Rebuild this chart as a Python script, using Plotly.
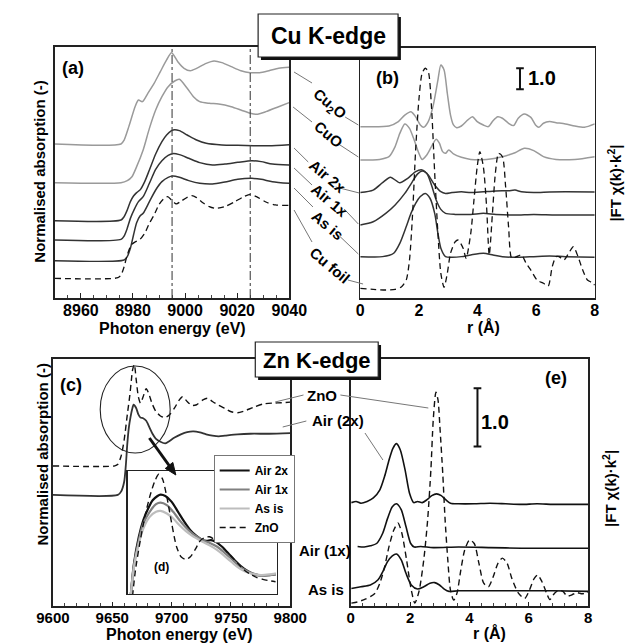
import plotly.graph_objects as go

W = H = 643
FONT = "Liberation Sans, Arial, sans-serif"

# ---------------- (a) Cu K-edge XANES (normalised absorption, offset) ----------------
a_E_cu2o = [8950.0, 8975.4, 8976.6, 8978.4, 8980.8, 8982.1, 8983.6, 8985.7, 8988.1, 8990.5, 8992.9, 8994.8, 8997.2,
            8999.6, 9002.0, 9004.4, 9008.1, 9011.1, 9014.1, 9017.7, 9021.4, 9025.0, 9028.6, 9032.2, 9035.9, 9039.9]
a_mu_cu2o = [2.139, 2.139, 2.194, 2.380, 2.657, 2.750, 2.727, 2.843, 2.981, 3.144, 3.306, 3.407, 3.282,
             3.190, 3.157, 3.190, 3.259, 3.292, 3.269, 3.213, 3.157, 3.130, 3.130, 3.157, 3.190, 3.204]
a_E_cuo = [8950.0, 8975.4, 8977.8, 8979.6, 8981.4, 8983.9, 8986.3, 8988.7, 8991.1, 8993.5, 8996.0, 8997.8,
           9000.8, 9003.2, 9005.6, 9009.3, 9012.9, 9017.7, 9021.4, 9025.0, 9027.4, 9031.0, 9035.9, 9039.9]
a_mu_cuo = [1.602, 1.602, 1.630, 1.685, 1.824, 2.056, 2.356, 2.611, 2.796, 2.935, 3.014, 3.037,
            2.912, 2.796, 2.727, 2.704, 2.694, 2.657, 2.611, 2.565, 2.551, 2.588, 2.657, 2.713]
a_E_air2 = [8950.0, 8975.4, 8976.6, 8977.8, 8979.0, 8980.2, 8981.4, 8982.9, 8984.5, 8986.3, 8988.7, 8991.1,
            8992.9, 8994.8, 8996.0, 8997.8, 9000.8, 9004.4, 9008.1, 9014.1, 9020.2, 9026.2, 9032.2, 9039.9]
a_mu_air2 = [1.074, 1.083, 1.130, 1.222, 1.338, 1.417, 1.463, 1.509, 1.616, 1.778, 2.000, 2.171,
             2.264, 2.324, 2.338, 2.324, 2.264, 2.194, 2.148, 2.125, 2.120, 2.116, 2.116, 2.130]
a_E_air1 = [8950.0, 8975.4, 8976.6, 8977.8, 8979.0, 8980.5, 8982.1, 8983.9, 8986.3, 8988.7, 8991.1, 8993.5,
            8995.3, 8997.8, 9001.4, 9005.6, 9010.5, 9015.3, 9020.2, 9025.6, 9029.2, 9033.5, 9039.9]
a_mu_air1 = [0.806, 0.815, 0.861, 0.968, 1.106, 1.231, 1.338, 1.407, 1.593, 1.787, 1.907, 1.981,
             2.005, 1.991, 1.940, 1.880, 1.847, 1.861, 1.884, 1.907, 1.894, 1.861, 1.847]
a_E_asis = [8950.0, 8976.6, 8977.8, 8979.0, 8980.2, 8981.4, 8982.7, 8983.9, 8986.3, 8988.7, 8991.1, 8993.5,
            8995.3, 8997.8, 9001.4, 9005.6, 9010.5, 9015.3, 9020.2, 9025.6, 9029.2, 9033.5, 9039.9]
a_mu_asis = [0.519, 0.528, 0.574, 0.690, 0.875, 1.046, 1.139, 1.176, 1.338, 1.500, 1.616, 1.676,
             1.694, 1.676, 1.630, 1.593, 1.583, 1.611, 1.648, 1.662, 1.648, 1.616, 1.593]
a_E_foil = [8950.0, 8974.2, 8975.4, 8976.6, 8977.8, 8979.3, 8980.8, 8982.7, 8984.5, 8986.3, 8988.1, 8989.9,
            8991.7, 8993.3, 8994.8, 8996.6, 8998.4, 9000.8, 9002.6, 9004.4, 9006.8, 9009.3, 9011.7, 9015.3,
            9018.9, 9022.0, 9025.0, 9027.4, 9031.0, 9034.7, 9039.9]
a_mu_foil = [0.273, 0.282, 0.319, 0.435, 0.597, 0.736, 0.778, 0.815, 0.898, 1.037, 1.153, 1.292,
             1.375, 1.407, 1.361, 1.306, 1.343, 1.398, 1.421, 1.394, 1.324, 1.269, 1.245, 1.269,
             1.333, 1.398, 1.440, 1.407, 1.333, 1.292, 1.287]
a_ref_lines = [8995, 9025]

# ---------------- (b) Cu K-edge |FT chi(k) k^2| (offset) ----------------
b_r_cu2o = [0.0, 0.98, 1.30, 1.52, 1.73, 1.89, 2.05, 2.16, 2.32, 2.48, 2.65, 2.75, 2.86, 2.97, 3.08, 3.18, 3.29,
            3.45, 3.67, 3.83, 3.99, 4.20, 4.37, 4.53, 4.69, 4.85, 5.06, 5.23, 5.39, 5.60, 5.82, 5.98, 6.09, 6.25,
            6.46, 6.68, 7.00, 7.32, 7.65, 8.00]
b_ft_cu2o = [8.16, 8.19, 8.40, 8.71, 8.87, 8.63, 8.24, 8.13, 8.40, 9.11, 10.38, 11.10, 10.86, 9.75, 8.71, 8.24,
             8.11, 8.19, 8.48, 8.63, 8.40, 8.24, 8.16, 8.44, 8.63, 8.56, 8.32, 8.21, 8.56, 8.76, 8.60, 8.24, 8.13,
             8.32, 8.40, 8.35, 8.29, 8.19, 8.13, 8.29]
b_r_cuo = [0.0, 0.66, 0.98, 1.19, 1.35, 1.52, 1.68, 1.84, 2.00, 2.11, 2.27, 2.43, 2.59, 2.70, 2.81, 2.91, 3.02,
           3.18, 3.45, 3.77, 4.31, 4.85, 5.28, 5.60, 5.92, 6.25, 6.68, 7.32, 8.00]
b_ft_cuo = [6.57, 6.60, 6.73, 7.21, 7.84, 8.29, 8.08, 7.52, 6.89, 6.60, 6.81, 7.21, 7.56, 7.37, 6.97, 6.89, 7.05,
            6.86, 6.70, 6.60, 6.60, 6.73, 6.92, 7.13, 7.02, 6.73, 6.60, 6.60, 6.73]
b_r_air2 = [0.0, 0.44, 0.76, 1.03, 1.35, 1.62, 1.89, 2.11, 2.32, 2.54, 2.75, 2.91, 3.13, 3.45, 3.77, 4.20, 4.63,
            5.06, 5.28, 5.50, 5.92, 6.46, 7.00, 8.00]
b_ft_air2 = [5.02, 5.14, 5.49, 5.75, 5.49, 5.70, 6.02, 6.10, 5.86, 5.38, 5.06, 4.98, 5.02, 5.06, 5.02, 5.06, 5.10,
             5.11, 5.14, 5.06, 5.02, 5.05, 5.06, 5.05]
b_r_air1 = [0.0, 0.44, 0.87, 1.19, 1.52, 1.78, 1.95, 2.11, 2.27, 2.43, 2.59, 2.75, 2.91, 3.24, 3.77, 4.20, 4.63,
            5.28, 5.92, 6.68, 8.00]
b_ft_air1 = [3.48, 3.63, 4.03, 4.43, 4.98, 5.54, 5.90, 6.05, 5.94, 5.38, 4.67, 4.22, 4.03, 3.98, 3.98, 4.03, 3.98,
             3.95, 3.98, 3.95, 3.95]
b_r_asis = [0.0, 0.76, 1.14, 1.35, 1.57, 1.73, 1.89, 2.05, 2.22, 2.38, 2.54, 2.65, 2.75, 2.91, 3.13, 3.45, 3.77,
            4.20, 4.53, 4.85, 5.39, 5.92, 6.46, 7.00, 8.00]
b_ft_asis = [1.97, 1.97, 2.13, 2.60, 3.40, 4.03, 4.51, 4.83, 4.98, 4.75, 4.03, 3.08, 2.37, 1.97, 1.94, 1.97, 2.05,
             2.13, 2.05, 1.97, 1.94, 1.97, 2.00, 1.97, 1.94]
b_r_foil = [0.0, 0.44, 0.87, 1.19, 1.41, 1.57, 1.68, 1.78, 1.89, 2.00, 2.11, 2.22, 2.32, 2.43, 2.54, 2.65, 2.75,
            2.86, 2.97, 3.08, 3.24, 3.34, 3.51, 3.61, 3.77, 3.88, 3.99, 4.08, 4.20, 4.31, 4.40, 4.51, 4.61, 4.72,
            4.85, 4.96, 5.06, 5.17, 5.33, 5.50, 5.66, 5.82, 6.03, 6.25, 6.41, 6.55, 6.68, 6.78, 6.95, 7.11, 7.27,
            7.43, 7.59, 7.75, 7.91, 8.00]
b_ft_foil = [0.46, 0.41, 0.38, 0.41, 0.54, 0.86, 1.81, 3.87, 7.05, 9.43, 10.70, 10.94, 10.78, 9.11, 5.94, 3.08,
             1.17, 0.51, 1.17, 2.13, 2.68, 2.76, 2.37, 1.89, 3.08, 4.67, 6.25, 6.97, 6.25, 4.35, 2.05, 4.03, 5.94,
             6.89, 6.73, 5.30, 3.40, 1.89, 1.97, 2.05, 1.65, 1.33, 0.86, 0.70, 0.57, 1.49, 1.97, 1.97, 1.81, 2.13,
             2.44, 1.97, 1.33, 0.86, 0.73, 0.62]
b_scale = 1.0

# ---------------- (c) Zn K-edge XANES ----------------
c_E_air2 = [9600.0, 9654.7, 9657.4, 9660.0, 9661.4, 9662.7, 9664.0, 9665.3, 9666.7, 9668.0, 9670.1, 9672.0,
            9673.8, 9676.0, 9678.6, 9681.3, 9683.9, 9686.6, 9690.6, 9694.6, 9697.2, 9702.5, 9707.8, 9713.1,
            9718.5, 9723.8, 9729.1, 9734.4, 9739.7, 9745.0, 9755.6, 9766.3, 9782.2, 9800.0]
c_mu_air2 = [1.736, 1.736, 1.787, 1.938, 2.189, 2.541, 2.793, 2.944, 3.070, 3.145, 3.095, 2.994,
             2.944, 2.934, 2.894, 2.793, 2.692, 2.617, 2.567, 2.541, 2.567, 2.632, 2.682, 2.717,
             2.728, 2.712, 2.682, 2.662, 2.652, 2.662, 2.682, 2.692, 2.692, 2.702]
c_E_zno = [9600.0, 9652.1, 9654.7, 9657.4, 9660.0, 9662.7, 9664.8, 9666.2, 9667.2, 9668.6, 9670.1, 9672.0,
           9673.8, 9676.0, 9678.6, 9680.7, 9683.4, 9686.6, 9690.6, 9694.6, 9698.5, 9702.5, 9706.5, 9709.2,
           9713.1, 9717.1, 9721.1, 9726.4, 9730.4, 9734.4, 9739.7, 9745.0, 9750.3, 9755.6, 9760.9, 9768.9,
           9776.9, 9784.8, 9792.8, 9800.0]
c_mu_zno = [2.189, 2.189, 2.214, 2.340, 2.592, 2.994, 3.296, 3.548, 3.699, 3.775, 3.548, 3.271,
            3.171, 3.271, 3.397, 3.322, 3.171, 3.045, 2.969, 2.944, 2.994, 3.095, 3.221, 3.271,
            3.196, 3.135, 3.145, 3.221, 3.246, 3.196, 3.135, 3.085, 3.035, 3.020, 3.045, 3.105,
            3.156, 3.171, 3.176, 3.186]

# ---------------- (d) inset: white-line region ----------------
d_E_air2 = [9660.8, 9661.7, 9663.0, 9664.2, 9665.5, 9666.7, 9668.0, 9668.8, 9670.1, 9671.8, 9673.5, 9675.2,
            9676.8, 9678.5, 9679.8, 9681.1, 9682.3, 9683.6, 9685.3, 9687.0, 9688.6, 9690.3, 9692.0, 9693.7,
            9695.4, 9697.9, 9699.7]
d_mu_air2 = [0.330, 0.599, 0.815, 0.950, 1.045, 1.112, 1.147, 1.158, 1.147, 1.099, 1.018, 0.936,
             0.869, 0.820, 0.793, 0.782, 0.788, 0.774, 0.734, 0.680, 0.626, 0.577, 0.539, 0.512,
             0.501, 0.504, 0.512]
d_E_air1 = [9660.8, 9661.7, 9663.0, 9664.2, 9665.9, 9667.6, 9668.8, 9670.5, 9672.2, 9673.9, 9675.6, 9677.3,
            9679.0, 9680.6, 9682.3, 9684.0, 9685.7, 9687.4, 9689.1, 9690.7, 9692.4, 9694.1, 9695.8, 9697.9,
            9699.7]
d_mu_air1 = [0.330, 0.585, 0.788, 0.923, 1.018, 1.080, 1.093, 1.072, 1.018, 0.950, 0.891, 0.842,
             0.807, 0.780, 0.761, 0.734, 0.693, 0.647, 0.599, 0.558, 0.531, 0.512, 0.501, 0.504, 0.509]
d_E_asis = d_E_air1
d_mu_asis = [0.330, 0.572, 0.761, 0.882, 0.977, 1.018, 1.026, 1.004, 0.964, 0.909, 0.861, 0.823,
             0.793, 0.766, 0.739, 0.707, 0.666, 0.620, 0.577, 0.545, 0.523, 0.509, 0.504, 0.509, 0.518]
d_E_zno = [9661.3, 9662.1, 9663.4, 9664.6, 9665.9, 9667.2, 9668.3, 9669.3, 9670.5, 9671.8, 9673.1, 9674.3,
           9675.6, 9676.8, 9678.1, 9679.4, 9680.6, 9681.9, 9683.2, 9684.4, 9686.1, 9687.8, 9689.5, 9691.2,
           9692.8, 9694.5, 9696.2, 9697.9, 9699.6]
d_mu_zno = [0.330, 0.545, 0.788, 0.977, 1.139, 1.261, 1.323, 1.288, 1.139, 0.923, 0.734, 0.653,
            0.631, 0.653, 0.712, 0.782, 0.809, 0.815, 0.793, 0.755, 0.707, 0.653, 0.599, 0.545,
            0.512, 0.485, 0.469, 0.458, 0.450]

# ---------------- (e) Zn K-edge |FT chi(k) k^2| ----------------
e_r_zno = [0.02, 0.23, 0.45, 0.66, 0.82, 0.98, 1.14, 1.29, 1.45, 1.59, 1.72, 1.88, 2.04, 2.16, 2.30, 2.46, 2.59,
           2.70, 2.78, 2.87, 2.94, 3.01, 3.10, 3.18, 3.27, 3.36, 3.47, 3.58, 3.71, 3.84, 4.00, 4.16, 4.32, 4.48,
           4.64, 4.80, 4.96, 5.11, 5.27, 5.43, 5.65, 5.86, 6.02, 6.18, 6.30, 6.44, 6.60, 6.71, 6.87, 7.02, 7.15,
           7.29, 7.45, 7.61, 7.77, 7.93, 8.00]
e_ft_zno = [0.05, 0.07, 0.11, 0.16, 0.22, 0.39, 0.67, 1.02, 1.30, 1.42, 1.25, 0.79, 0.27, 0.05, 0.25, 0.79, 1.47,
            2.33, 3.19, 3.66, 3.53, 3.02, 2.27, 1.47, 0.79, 0.27, 0.10, 0.22, 0.62, 0.96, 1.13, 1.07, 0.73, 0.39,
            0.33, 0.50, 0.73, 0.82, 0.73, 0.47, 0.22, 0.13, 0.27, 0.47, 0.53, 0.42, 0.22, 0.11, 0.22, 0.27, 0.25,
            0.17, 0.19, 0.23, 0.21, 0.22, 0.25]
e_r_air2 = [0.02, 0.18, 0.34, 0.55, 0.76, 0.98, 1.14, 1.29, 1.42, 1.54, 1.67, 1.83, 1.98, 2.12, 2.25, 2.41, 2.57,
            2.73, 2.89, 3.05, 3.20, 3.36, 3.63, 4.16, 4.69, 5.22, 5.75, 6.28, 6.81, 7.34, 8.00]
e_ft_air2 = [1.77, 1.79, 1.76, 1.79, 1.85, 1.99, 2.22, 2.50, 2.70, 2.78, 2.67, 2.33, 1.93, 1.77, 1.79, 1.77, 1.82,
             1.89, 1.92, 1.89, 1.82, 1.76, 1.75, 1.75, 1.76, 1.75, 1.74, 1.75, 1.74, 1.74, 1.74]
e_r_air1 = [0.23, 0.45, 0.66, 0.87, 1.08, 1.24, 1.40, 1.54, 1.70, 1.86, 2.02, 2.14, 2.36, 2.78, 3.63, 4.69, 5.75,
            6.81, 8.00]
e_ft_air1 = [1.02, 1.01, 1.03, 1.07, 1.25, 1.50, 1.70, 1.75, 1.65, 1.36, 1.07, 1.01, 1.02, 1.00, 1.01, 1.00, 0.99,
             0.99, 0.99]
e_r_asis = [0.02, 0.34, 0.66, 0.92, 1.08, 1.24, 1.40, 1.54, 1.70, 1.86, 2.04, 2.25, 2.46, 2.67, 2.83, 2.99, 3.15,
            3.31, 3.63, 4.69, 5.75, 6.81, 8.00]
e_ft_asis = [0.30, 0.33, 0.36, 0.45, 0.59, 0.76, 0.86, 0.89, 0.79, 0.56, 0.36, 0.29, 0.33, 0.39, 0.40, 0.36, 0.29,
             0.25, 0.26, 0.26, 0.26, 0.26, 0.25]
e_scale = 1.0

# tick labels
a_ticks = [8960, 8980, 9000, 9020, 9040]
c_ticks = [9600, 9650, 9700, 9750, 9800]
r_ticks = [0, 2, 4, 6, 8]

# ---------------- layout helpers (pixel frame positions) ----------------
def PX(p):
    return p / W


def PY(p):
    return 1 - p / H


LIGHT = "#9a9a9a"
DARK = "#333333"
BLACK = "#111111"
DASH = "6px,4px"

fig = go.Figure()


def line(x, y, ax, color, width=1.5, dash=None, name=None, legend=False):
    fig.add_trace(go.Scatter(x=x, y=y, xaxis="x" + ax, yaxis="y" + ax, mode="lines",
                             line=dict(color=color, width=width, dash=dash, shape="spline", smoothing=0.7),
                             name=name, showlegend=legend, hoverinfo="skip"))


# (a)
line(a_E_cu2o, a_mu_cu2o, "", LIGHT)
line(a_E_cuo, a_mu_cuo, "", LIGHT)
line(a_E_air2, a_mu_air2, "", DARK)
line(a_E_air1, a_mu_air1, "", DARK)
line(a_E_asis, a_mu_asis, "", DARK)
line(a_E_foil, a_mu_foil, "", BLACK, 1.3, DASH)
# (b)
line(b_r_cu2o, b_ft_cu2o, "2", LIGHT)
line(b_r_cuo, b_ft_cuo, "2", LIGHT)
line(b_r_air2, b_ft_air2, "2", DARK)
line(b_r_air1, b_ft_air1, "2", DARK)
line(b_r_asis, b_ft_asis, "2", DARK)
line(b_r_foil, b_ft_foil, "2", BLACK, 1.3, DASH)
# (c)
line(c_E_zno, c_mu_zno, "3", BLACK, 1.4, DASH)
line(c_E_air2, c_mu_air2, "3", DARK, 1.8)
# (e)
line(e_r_zno, e_ft_zno, "4", BLACK, 1.4, DASH)
line(e_r_air2, e_ft_air2, "4", BLACK, 1.6)
line(e_r_air1, e_ft_air1, "4", BLACK, 1.6)
line(e_r_asis, e_ft_asis, "4", BLACK, 1.6)
# (d) inset with legend
line(d_E_air2, d_mu_air2, "5", "#111111", 2.2, None, "Air 2x", True)
line(d_E_air1, d_mu_air1, "5", "#808080", 2.2, None, "Air 1x", True)
line(d_E_asis, d_mu_asis, "5", "#bdbdbd", 2.2, None, "As is", True)
line(d_E_zno, d_mu_zno, "5", BLACK, 1.4, DASH, "ZnO", True)

frame = dict(showline=True, mirror=True, linecolor="#222", linewidth=1.6, showgrid=False, zeroline=False)
tickfont16 = dict(family=FONT, size=16, color="black", weight="bold")
tickfont15 = dict(family=FONT, size=15, color="black", weight="bold")

layout = dict(
    width=W, height=H, margin=dict(l=0, r=0, t=0, b=0), paper_bgcolor="white", plot_bgcolor="white",
    xaxis=dict(domain=[PX(40), PX(288)], range=[8950, 9040], anchor="y", tickvals=a_ticks, ticks="inside",
               ticklen=5, tickcolor="#222", tickfont=tickfont16, tickformat="d", ticklabelstandoff=-3,
               minor=dict(dtick=5, ticks="inside", ticklen=3, tickcolor="#444"), **frame),
    yaxis=dict(domain=[PY(298), PY(47)], range=[0, 3.486], anchor="x", showticklabels=False, ticks="", **frame),
    xaxis2=dict(domain=[PX(363), PX(611)], range=[0, 8], anchor="y2", tickvals=r_ticks, ticks="",
                tickfont=tickfont16, tickformat="d", ticklabelstandoff=-3, **frame),
    yaxis2=dict(domain=[PY(298), PY(48)], range=[0, 11.905], anchor="x2", showticklabels=False, ticks="", **frame),
    xaxis3=dict(domain=[PX(38), PX(289)], range=[9600, 9800], anchor="y3", tickvals=c_ticks, ticks="inside",
                ticklen=4, tickcolor="#222", tickfont=tickfont15, tickformat="d", ticklabelstandoff=-3,
                minor=dict(dtick=10, ticks="inside", ticklen=3, tickcolor="#444"), **frame),
    yaxis3=dict(domain=[PY(606), PY(359)], range=[0, 3.86], anchor="x3", showticklabels=False, ticks="", **frame),
    xaxis4=dict(domain=[PX(353), PX(604)], range=[0, 8], anchor="y4", tickvals=r_ticks, ticks="inside",
                ticklen=4, tickcolor="#222", tickfont=tickfont15, tickformat="d", ticklabelstandoff=-3,
                minor=dict(dtick=0.4, ticks="inside", ticklen=3, tickcolor="#444"), **frame),
    yaxis4=dict(domain=[PY(606), PY(359)], range=[0, 4.229], anchor="x4", showticklabels=False, ticks="", **frame),
    xaxis5=dict(domain=[PX(117), PX(275)], range=[9660, 9700], anchor="y5", showticklabels=False, ticks="",
                showline=True, mirror=True, linecolor="#222", linewidth=1.3, showgrid=False, zeroline=False),
    yaxis5=dict(domain=[PY(594), PY(471)], range=[0.35, 1.35], anchor="x5", showticklabels=False, ticks="",
                showline=True, mirror=True, linecolor="#222", linewidth=1.3, showgrid=False, zeroline=False),
    legend=dict(x=PX(208), y=PY(455), xanchor="left", yanchor="top", bgcolor="white", bordercolor="#777",
                borderwidth=1, traceorder="normal", itemwidth=30,
                font=dict(family=FONT, size=12, color="black", weight="bold"), tracegroupgap=0),
    showlegend=True,
)
fig.update_layout(**layout)

shapes = []
ann = []

# reference lines in (a)
for e in a_ref_lines:
    shapes.append(dict(type="line", xref="x", yref="y domain", x0=e, x1=e, y0=0, y1=1,
                       line=dict(color="#444", width=1.1, dash="dashdot")))


# scale bars
def scale_bar(ax, xc, y0, h, half):
    xr, yr = "x" + ax, "y" + ax
    shapes.append(dict(type="line", xref=xr, yref=yr, x0=xc, x1=xc, y0=y0, y1=y0 + h, line=dict(color="#111", width=2)))
    for yy in (y0, y0 + h):
        shapes.append(dict(type="line", xref=xr, yref=yr, x0=xc - half, x1=xc + half, y0=yy, y1=yy,
                           line=dict(color="#111", width=2)))


scale_bar("2", 5.45, 9.94, b_scale, 0.13)
scale_bar("4", 4.27, 2.73, e_scale, 0.13)

# leader lines (label connectors)
leaders = [(293, 72, 312, 83), (347, 117, 361, 125), (292, 107, 312, 122), (340, 144, 361, 157),
           (293, 148, 308, 162), (337, 187, 362, 193), (293, 168, 312, 185), (346, 209, 361, 224),
           (293, 188, 313, 207), (341, 236, 361, 254), (293, 210, 312, 242), (350, 280, 366, 284),
           (273, 402, 303, 395), (342, 395, 435, 408), (281, 427, 306, 421), (368, 433, 387, 460)]
for x0, y0, x1, y1 in leaders:
    shapes.append(dict(type="line", xref="paper", yref="paper", x0=PX(x0), y0=PY(y0), x1=PX(x1), y1=PY(y1),
                       line=dict(color="#777", width=1)))

# ellipse in (c)
shapes.append(dict(type="circle", xref="paper", yref="paper", x0=PX(88), x1=PX(162), y0=PY(453), y1=PY(366),
                   line=dict(color="#222", width=1.1)))

# arrow from ellipse into inset (shaft + head)
shapes.append(dict(type="line", xref="paper", yref="paper", x0=PX(140), y0=PY(438), x1=PX(162), y1=PY(467),
                   line=dict(color="#111", width=3)))
head = [(168, 475), (156.8, 468.4), (164.8, 462.4)]
shapes.append(dict(type="path", xref="paper", yref="paper",
                   path="M {} {} L {} {} L {} {} Z".format(*[v for p in head for v in (PX(p[0]), PY(p[1]))]),
                   fillcolor="#111", line=dict(color="#111", width=1)))

# title boxes with shadow
for (x0, y0, x1, y1) in [(255, 14, 403, 57), (252, 342, 382, 377)]:
    shapes.append(dict(type="rect", xref="paper", yref="paper", x0=PX(x0 + 3), x1=PX(x1 + 3), y0=PY(y1 + 3),
                       y1=PY(y0 + 3), fillcolor="#111", line=dict(width=0)))
    shapes.append(dict(type="rect", xref="paper", yref="paper", x0=PX(x0), x1=PX(x1), y0=PY(y1), y1=PY(y0),
                       fillcolor="white", line=dict(color="#222", width=1.2)))


def text(t, x, y, size, angle=0, weight="bold", color="black"):
    ann.append(dict(text=t, x=PX(x), y=PY(y), xref="paper", yref="paper", showarrow=False, textangle=angle,
                    xanchor="center", yanchor="middle",
                    font=dict(family=FONT, size=size, color=color, weight=weight)))


text("Cu K-edge", 329, 36, 23)
text("Zn K-edge", 317, 360, 22)
text("(a)", 59, 68, 18)
text("(b)", 392, 78, 18)
text("1.0", 555, 78, 20)
text("(c)", 57, 385, 18)
text("(e)", 570, 378, 18)
text("1.0", 505, 422, 20)
text("(d)", 153, 567, 12)

text("Normalised absorption (-)", 24, 171, 15, -90)
text("Normalised absorption (-)", 26, 454, 15, -90)
text("Photon energy (eV)", 164, 328, 16)
text("Photon energy (eV)", 172, 634, 16)
text("r (Å)", 493, 327, 16)
text("r (Å)", 500, 633, 16)
text("|FT χ(k)·k<sup>2</sup>|", 632, 183, 15, -90)
text("|FT χ(k)·k<sup>2</sup>|", 626, 488, 15, -90)

# Cu sample labels (rotated)
text("Cu<sub>2</sub>O", 331, 104, 15, 40)
text("CuO", 330, 134, 15, 40)
text("Air 2x", 329, 176, 15, 40)
text("Air 1x", 331, 200, 15, 40)
text("As is", 329, 225, 15, 40)
text("Cu foil", 331, 266, 15, 40)

# Zn sample labels
text("ZnO", 323, 396, 15)
text("Air (2x)", 339, 420, 15)
text("Air (1x)", 326, 550, 15)
text("As is", 327, 589, 15)

fig.update_layout(shapes=shapes, annotations=ann)
fig.write_html("out.html", config={"displayModeBar": False, "staticPlot": True},
               post_script="document.body.style.margin='0px';document.body.style.padding='0px';"
                           "document.body.style.overflow='hidden';")
